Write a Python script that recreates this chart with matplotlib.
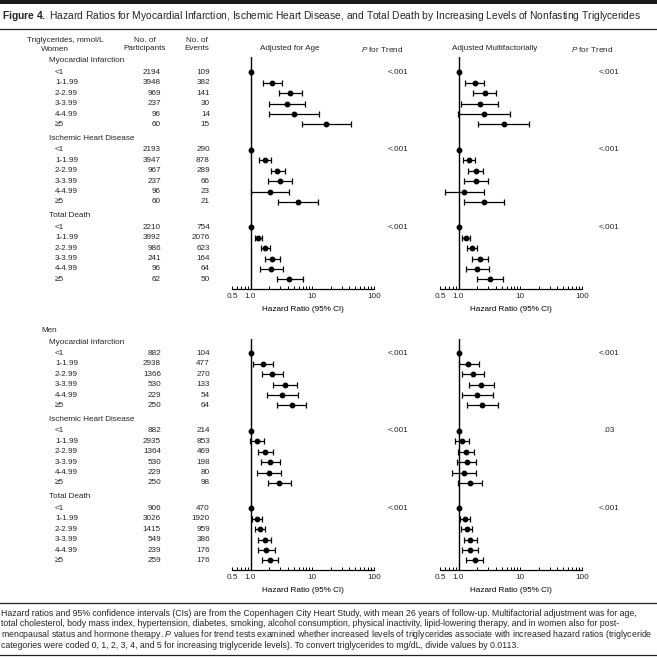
import numpy as np
import matplotlib
matplotlib.use('Agg')
import matplotlib.pyplot as plt
from matplotlib.transforms import blended_transform_factory
from matplotlib.ticker import FixedLocator, NullFormatter

plt.rcParams['font.family'] = ['Liberation Sans', 'DejaVu Sans']
plt.rcParams['mathtext.fontset'] = 'custom'
plt.rcParams['mathtext.rm'] = 'Liberation Sans'
plt.rcParams['mathtext.it'] = 'Liberation Sans:italic'
plt.rcParams['mathtext.bf'] = 'Liberation Sans:bold'
plt.rcParams['text.color'] = '#262626'

# ---- data ----
levels = ['<1', '1-1.99', '2-2.99', '3-3.99', '4-4.99', '≥5']
outcomes = ['Myocardial Infarction', 'Ischemic Heart Disease', 'Total Death']

w_part = [[2194, 3948, 969, 237, 96, 60],
          [2193, 3947, 967, 237, 96, 60],
          [2210, 3992, 986, 241, 96, 62]]
w_events = [[109, 382, 141, 30, 14, 15],
            [290, 878, 289, 66, 23, 21],
            [754, 2076, 623, 164, 64, 50]]
m_part = [[882, 2938, 1366, 530, 229, 250],
          [882, 2935, 1364, 530, 229, 250],
          [906, 3026, 1415, 549, 239, 259]]
m_events = [[104, 477, 270, 133, 54, 64],
            [214, 853, 469, 198, 80, 98],
            [470, 1920, 959, 386, 176, 176]]

# hazard ratios adjusted for age
age_w_hr = [[1, 2.25, 4.4, 3.9, 5.07, 16.8], [1, 1.71, 2.71, 2.96, 2.09, 5.9], [1, 1.33, 1.73, 2.25, 2.17, 4.25]]
age_w_lo = [[1, 1.59, 2.89, 1.99, 1.99, 6.8], [1, 1.37, 2.14, 1.91, 1.0, 2.78], [1, 1.18, 1.49, 1.71, 1.42, 2.71]]
age_w_hi = [[1, 3.19, 6.8, 7.6, 12.8, 41.8], [1, 2.14, 3.61, 4.7, 4.2, 12.4], [1, 1.51, 2.06, 3.0, 3.31, 7.1]]
age_m_hr = [[1, 1.59, 2.25, 3.61, 3.27, 4.64], [1, 1.27, 1.73, 2.09, 1.96, 2.92], [1, 1.27, 1.40, 1.69, 1.80, 2.04]]
age_m_lo = [[1, 1.09, 1.53, 2.34, 1.87, 2.71], [1, 0.99, 1.33, 1.47, 1.28, 1.91], [1, 1.04, 1.18, 1.33, 1.33, 1.53]]
age_m_hi = [[1, 2.28, 3.36, 5.67, 5.96, 7.9], [1, 1.65, 2.34, 3.04, 3.15, 4.53], [1, 1.53, 1.71, 2.17, 2.52, 2.82]]

# hazard ratios adjusted multifactorially
mf_w_hr = [[1, 1.82, 2.68, 2.19, 2.55, 5.46], [1, 1.45, 1.91, 1.91, 1.22, 2.61], [1, 1.32, 1.65, 2.19, 2.01, 3.27]]
mf_w_lo = [[1, 1.27, 1.73, 1.09, 0.975, 2.06], [1, 1.18, 1.42, 1.21, 0.60, 1.21], [1, 1.13, 1.38, 1.67, 1.33, 2.01]]
mf_w_hi = [[1, 2.58, 4.1, 4.4, 6.8, 13.9], [1, 1.87, 2.49, 3.04, 2.58, 5.53], [1, 1.55, 2.01, 3.04, 3.15, 5.3]]
mf_m_hr = [[1, 1.44, 1.71, 2.31, 2.01, 2.43], [1, 1.12, 1.32, 1.35, 1.22, 1.55], [1, 1.27, 1.35, 1.55, 1.53, 1.82]]
mf_m_lo = [[1, 1.0, 1.13, 1.47, 1.13, 1.38], [1, 0.87, 0.99, 0.94, 0.78, 0.99], [1, 1.05, 1.09, 1.22, 1.13, 1.32]]
mf_m_hi = [[1, 2.14, 2.58, 3.80, 3.61, 4.42], [1, 1.47, 1.78, 1.91, 1.94, 2.43], [1, 1.53, 1.65, 2.01, 2.09, 2.46]]

p_age_w = ['<.001', '<.001', '<.001']
p_mf_w = ['<.001', '<.001', '<.001']
p_age_m = ['<.001', '<.001', '<.001']
p_mf_m = ['<.001', '.03', '<.001']

title = (r'$\bf{Figure\ 4.}$ Hazard Ratios for Myocardial Infarction, Ischemic Heart Disease, '
         'and Total Death by Increasing Levels of Nonfasting Triglycerides')
footnote = [
    'Hazard ratios and 95% confidence intervals (CIs) are from the Copenhagen City Heart Study, with mean 26 years of follow-up. Multifactorial adjustment was for age,',
    'total cholesterol, body mass index, hypertension, diabetes, smoking, alcohol consumption, physical inactivity, lipid-lowering therapy, and in women also for post-',
    r'menopausal status and hormone therapy. $\it{P}$ values for trend tests examined whether increased levels of triglycerides associate with increased hazard ratios (triglyceride',
    'categories were coded 0, 1, 2, 3, 4, and 5 for increasing triglyceride levels). To convert triglycerides to mg/dL, divide values by 0.0113.',
]

W, H = 657, 658
fig = plt.figure(figsize=(W / 100, H / 100), dpi=100)


def fx(x):
    return x / W


def fy(y):
    return 1 - y / H


FS = 5.9
UNIT = 10.4  # pixels per row


def row_positions():
    heads, rows = [], []
    pos = 0.0
    for g in range(3):
        heads.append(pos)
        rows.append(pos + 1.1 + np.arange(6))
        pos += 1.1 + 5 + 1.35
    return heads, rows


heads, rows = row_positions()


def forest(x0, top, head_px, bottom, hr, lo, hi):
    ax = fig.add_axes([fx(x0), fy(bottom), fx(142), (bottom - top) / H])
    ax.set_xscale('log')
    ax.set_xlim(0.5, 100)
    ax.set_ylim((bottom - head_px) / UNIT, (top - head_px) / UNIT)
    ax.axvline(1, color='black', lw=1.0)
    for g in range(3):
        h = np.array(hr[g])
        l = np.array(lo[g])
        u = np.array(hi[g])
        ax.errorbar(h, rows[g], xerr=[h - l, u - h], fmt='o', color='black',
                    ms=3.2, elinewidth=0.9, capsize=2.3, capthick=0.9)
    for s in ['top', 'left', 'right']:
        ax.spines[s].set_visible(False)
    ax.spines['bottom'].set_linewidth(0.9)
    ax.set_yticks([])
    ax.xaxis.set_major_locator(FixedLocator([0.5, 1, 10, 100]))
    ax.set_xticklabels(['0.5', '1.0', '10', '100'])
    minors = [0.6, 0.7, 0.8, 0.9] + list(range(2, 10)) + list(range(20, 100, 10))
    ax.xaxis.set_minor_locator(FixedLocator(minors))
    ax.xaxis.set_minor_formatter(NullFormatter())
    ax.tick_params(axis='x', which='both', direction='in', length=2.3, width=0.7,
                   labelsize=FS, pad=3, labelcolor='#262626')
    ax.set_xlabel('Hazard Ratio (95% CI)', fontsize=FS, labelpad=4)
    ax.patch.set_alpha(0)
    return ax


def table(ax, sex, part, events, p_left, p_right):
    tr = blended_transform_factory(fig.transFigure, ax.transData)
    ax.text(fx(41), heads[0] - 1.15, sex, transform=tr, fontsize=FS, va='center')
    for g in range(3):
        ax.text(fx(49), heads[g], outcomes[g], transform=tr, fontsize=FS, va='center')
        for i in range(6):
            y = rows[g][i]
            ax.text(fx(55), y, levels[i], transform=tr, fontsize=FS, va='center')
            ax.text(fx(161), y, str(part[g][i]), transform=tr, fontsize=FS, va='center', ha='right')
            ax.text(fx(210), y, str(events[g][i]), transform=tr, fontsize=FS, va='center', ha='right')
        ax.text(fx(398), rows[g][0], p_left[g], transform=tr, fontsize=FS, va='center', ha='center')
        ax.text(fx(609), rows[g][0], p_right[g], transform=tr, fontsize=FS, va='center', ha='center')


# women
axw1 = forest(232, 57, 61, 289, age_w_hr, age_w_lo, age_w_hi)
axw2 = forest(440, 57, 61, 289, mf_w_hr, mf_w_lo, mf_w_hi)
table(axw1, 'Women', w_part, w_events, p_age_w, p_mf_w)

# men
axm1 = forest(232, 339, 342, 570, age_m_hr, age_m_lo, age_m_hi)
axm2 = forest(440, 339, 342, 570, mf_m_hr, mf_m_lo, mf_m_hi)
table(axm1, 'Men', m_part, m_events, p_age_m, p_mf_m)

# column headers
fig.text(fx(27), fy(40), 'Triglycerides, mmol/L', fontsize=FS, va='center')
fig.text(fx(145), fy(40), 'No. of', fontsize=FS, va='center', ha='center')
fig.text(fx(145), fy(49), 'Participants', fontsize=FS, va='center', ha='center')
fig.text(fx(197), fy(40), 'No. of', fontsize=FS, va='center', ha='center')
fig.text(fx(197), fy(49), 'Events', fontsize=FS, va='center', ha='center')
fig.text(fx(290), fy(49), 'Adjusted for Age', fontsize=FS, va='center', ha='center')
fig.text(fx(382), fy(49), r'$\it{P}$ for Trend', fontsize=FS, va='center', ha='center')
fig.text(fx(495), fy(49), 'Adjusted Multifactorially', fontsize=FS, va='center', ha='center')
fig.text(fx(592), fy(49), r'$\it{P}$ for Trend', fontsize=FS, va='center', ha='center')

# title block and rules
fig.add_artist(plt.Rectangle((0, fy(4)), 1, 4 / H, transform=fig.transFigure,
                             color='#1a1a1a', lw=0))
fig.text(fx(2), fy(16), title, fontsize=7.35, va='center')
fig.add_artist(plt.Line2D([0, 1], [fy(29), fy(29)], transform=fig.transFigure,
                          color='#222222', lw=0.9))
fig.add_artist(plt.Line2D([0, 1], [fy(603), fy(603)], transform=fig.transFigure,
                          color='#222222', lw=0.9))
fig.add_artist(plt.Line2D([0, 1], [fy(655), fy(655)], transform=fig.transFigure,
                          color='#222222', lw=0.9))
for k, line in enumerate(footnote):
    fig.text(fx(1), fy(613.5 + k * 10.5), line, fontsize=6.35, va='center')

fig.savefig('out.png', dpi=100)
